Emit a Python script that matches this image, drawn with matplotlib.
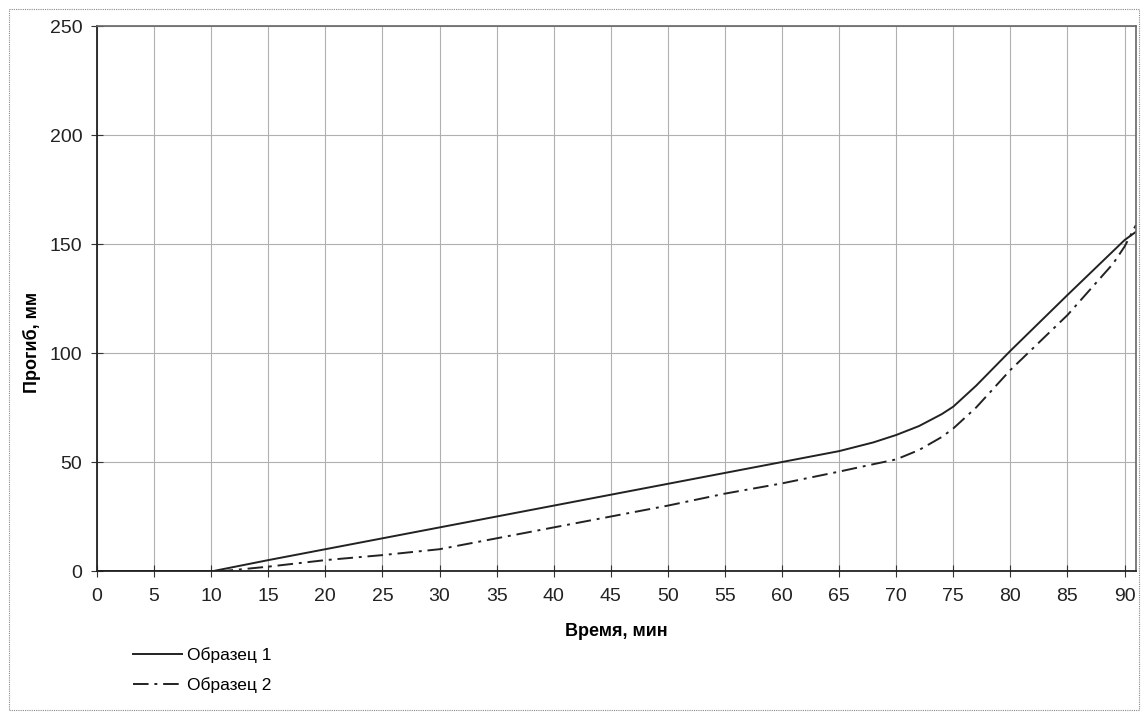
import matplotlib.pyplot as plt
from matplotlib.patches import Rectangle

plt.rcParams['font.family'] = ['Liberation Sans', 'DejaVu Sans']

# Время, мин
t1 = [0, 10, 10.2, 15, 20, 25, 30, 35, 40, 45, 50, 55, 60, 65, 68, 70, 72, 74, 75, 77, 80, 85, 90, 91]
y1 = [0, 0, 0, 5, 10, 15, 20, 25, 30, 35, 40, 45, 50, 55, 59, 62.4, 66.5, 72, 75.4, 85, 101, 126.6, 151.8, 155.6]

t2 = [0, 10, 11.1, 15, 20, 25, 30, 35, 40, 45, 50, 55, 60, 65, 68, 70, 72, 74, 75, 77, 80, 85, 89, 90, 91]
y2 = [0, 0, 0, 2, 5, 7.3, 10, 15, 20, 25, 30, 35.5, 40.2, 45.6, 49, 51.2, 55.5, 61.5, 65.4, 75, 92.2, 117.4, 141, 148.8, 158.7]

x_ticks = list(range(0, 95, 5))
y_ticks = [0, 50, 100, 150, 200, 250]

fig = plt.figure(figsize=(11.48, 7.17), dpi=100)
ax = fig.add_axes([0.0845, 0.2036, 0.905, 0.7601])

# рамка вокруг всей диаграммы
fig.patches.append(Rectangle((0.008, 0.01), 0.984, 0.978, transform=fig.transFigure,
                             fill=False, ec='#888888', lw=0.8, ls=(0, (1, 1))))

ax.plot(t1, y1, color='#222222', lw=1.4, ls='-', label='Образец 1')
ax.plot(t2, y2, color='#222222', lw=1.4, ls=(0, (8, 3, 1.5, 3)), label='Образец 2')

ax.set_xlim(0, 91)
ax.set_ylim(0, 250)
ax.set_xticks(x_ticks)
ax.set_yticks(y_ticks)
ax.grid(True, color='#b0b0b0', lw=0.8)
ax.tick_params(labelsize=14, length=9, direction='inout', color='#333333', labelcolor='#222222')
ax.tick_params(axis='x', pad=8)
ax.tick_params(axis='y', pad=6)

for s in ['left', 'bottom']:
    ax.spines[s].set_color('#222222')
    ax.spines[s].set_linewidth(1.3)
for s in ['top', 'right']:
    ax.spines[s].set_color('#666666')
    ax.spines[s].set_linewidth(1.2)

ax.set_xlabel('Время, мин', fontsize=13, fontweight='bold')
ax.xaxis.set_label_coords(0.5, -0.095)
ax.set_ylabel('Прогиб, мм', fontsize=13, fontweight='bold')
ax.yaxis.set_label_coords(-0.0535, 0.42)

ax.legend(loc='center left', bbox_to_anchor=(0.020, -0.182), frameon=False, fontsize=12.5,
          handlelength=2.8, handletextpad=0.3, labelspacing=0.85)

fig.savefig('out.png', dpi=100, facecolor='white')
